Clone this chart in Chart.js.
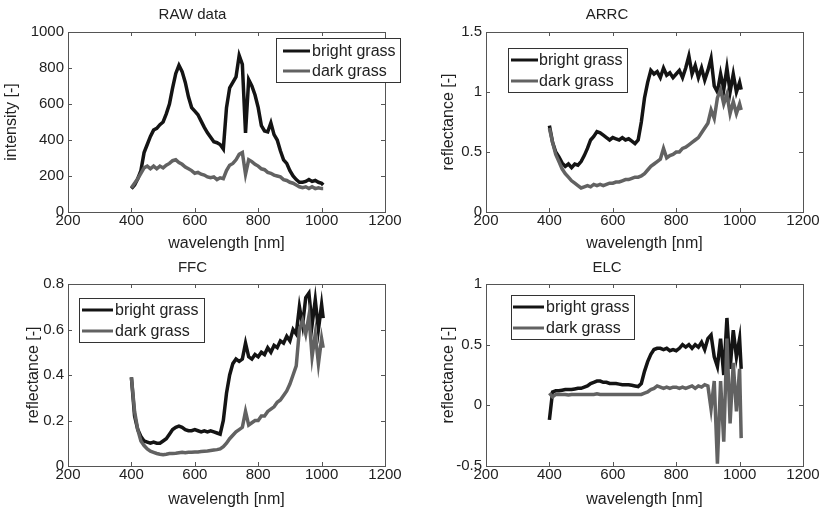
<!DOCTYPE html>
<html>
<head>
<meta charset="utf-8">
<script src="https://cdn.jsdelivr.net/npm/chart.js@4.4.1/dist/chart.umd.min.js"></script>
<style>
  body { margin: 0; background: #fff; }
  #wrap { position: relative; width: 823px; height: 511px; background: #fff; }
  .cell { position: absolute; }
</style>
</head>
<body>
<div id="wrap">
  <div class="cell" style="left:0;top:0;width:411px;height:255px"><canvas id="rawChart"></canvas></div>
  <div class="cell" style="left:411px;top:0;width:412px;height:255px"><canvas id="arrcChart"></canvas></div>
  <div class="cell" style="left:0;top:255px;width:411px;height:256px"><canvas id="ffcChart"></canvas></div>
  <div class="cell" style="left:411px;top:255px;width:412px;height:256px"><canvas id="elcChart"></canvas></div>
</div>
<script>
// wavelengths in nm (10 nm steps, last sample 1005)
const wavelengths = [400,410,420,430,440,450,460,470,480,490,500,510,520,530,540,550,560,570,580,590,
  600,610,620,630,640,650,660,670,680,690,700,710,720,730,740,750,760,770,780,790,
  800,810,820,830,840,850,860,870,880,890,900,910,920,930,940,950,960,970,980,990,1000,1005];

const seriesNames = ['bright grass', 'dark grass'];

const xTicks = [200, 400, 600, 800, 1000, 1200];
const rawTicks = [0, 200, 400, 600, 800, 1000];
const arrcTicks = [0, 0.5, 1, 1.5];
const ffcTicks = [0, 0.2, 0.4, 0.6, 0.8];
const elcTicks = [-0.5, 0, 0.5, 1];

const rawBright = [130,150,185,230,330,375,420,455,465,485,500,545,600,690,770,815,780,720,640,580,
  560,540,505,470,440,415,390,385,375,350,580,690,720,750,870,820,440,735,700,650,
  580,480,450,445,495,430,400,340,290,270,230,200,180,165,165,170,180,170,175,165,160,150];
const rawDark = [135,160,185,215,245,255,240,255,240,255,245,260,270,285,290,275,265,250,240,230,
  215,220,210,205,195,190,195,180,190,185,230,260,270,290,320,330,210,290,280,265,
  255,240,235,220,215,205,200,195,180,175,165,160,150,140,135,140,130,140,130,135,130,130];

const arrcBright = [0.72,0.58,0.5,0.46,0.41,0.38,0.4,0.37,0.4,0.39,0.42,0.47,0.53,0.6,0.63,0.67,0.66,0.64,0.62,0.6,
  0.62,0.61,0.6,0.62,0.6,0.61,0.59,0.57,0.6,0.75,0.95,1.08,1.18,1.15,1.17,1.12,1.2,1.14,1.16,1.12,
  1.15,1.18,1.12,1.2,1.3,1.15,1.22,1.12,1.2,1.1,1.18,1.28,1.05,1.0,1.15,1.02,1.2,1.0,1.15,1.0,1.08,1.02];
const arrcDark = [0.7,0.58,0.48,0.42,0.36,0.32,0.29,0.26,0.24,0.22,0.2,0.21,0.22,0.21,0.23,0.22,0.23,0.22,0.23,0.24,
  0.24,0.25,0.25,0.26,0.27,0.27,0.28,0.29,0.29,0.3,0.32,0.35,0.38,0.4,0.42,0.44,0.53,0.45,0.47,0.48,
  0.5,0.5,0.53,0.54,0.56,0.58,0.6,0.62,0.66,0.7,0.74,0.85,0.78,0.95,1.02,0.9,0.98,0.82,0.92,0.82,0.9,0.85];

const ffcBright = [0.39,0.22,0.16,0.13,0.11,0.105,0.1,0.105,0.1,0.1,0.11,0.12,0.14,0.16,0.17,0.175,0.17,0.16,0.155,0.155,
  0.16,0.155,0.15,0.155,0.15,0.155,0.15,0.145,0.14,0.2,0.32,0.4,0.45,0.47,0.46,0.47,0.54,0.48,0.47,0.49,
  0.48,0.5,0.49,0.52,0.5,0.53,0.52,0.55,0.54,0.57,0.55,0.6,0.58,0.7,0.62,0.74,0.76,0.62,0.73,0.6,0.71,0.65];
const ffcDark = [0.39,0.24,0.16,0.11,0.09,0.075,0.065,0.06,0.055,0.052,0.05,0.052,0.055,0.055,0.056,0.058,0.06,0.058,0.06,0.06,
  0.062,0.062,0.064,0.065,0.066,0.068,0.07,0.072,0.075,0.085,0.1,0.12,0.135,0.15,0.16,0.17,0.24,0.18,0.19,0.2,
  0.2,0.22,0.22,0.24,0.25,0.26,0.28,0.29,0.31,0.33,0.36,0.4,0.44,0.6,0.64,0.58,0.66,0.48,0.58,0.45,0.56,0.52];

const elcBright = [-0.12,0.11,0.12,0.12,0.125,0.13,0.13,0.13,0.135,0.14,0.14,0.15,0.16,0.18,0.19,0.2,0.2,0.19,0.19,0.18,
  0.18,0.18,0.175,0.17,0.17,0.17,0.165,0.16,0.155,0.18,0.28,0.36,0.42,0.46,0.47,0.47,0.46,0.47,0.45,0.46,
  0.45,0.47,0.5,0.48,0.5,0.47,0.5,0.48,0.52,0.46,0.55,0.58,0.4,0.32,0.55,0.25,0.72,0.3,0.62,0.4,0.55,0.3];
const elcDark = [0.1,0.07,0.09,0.09,0.09,0.09,0.085,0.09,0.09,0.09,0.09,0.09,0.09,0.09,0.09,0.095,0.09,0.09,0.09,0.09,
  0.09,0.09,0.09,0.09,0.09,0.09,0.09,0.09,0.09,0.09,0.1,0.11,0.13,0.14,0.16,0.15,0.14,0.15,0.14,0.15,
  0.15,0.14,0.15,0.14,0.15,0.16,0.14,0.16,0.15,0.17,0.16,-0.03,0.2,-0.48,0.2,-0.3,0.55,-0.15,0.35,-0.05,0.3,-0.27];

Chart.defaults.font.family = '"Liberation Sans", Arial, sans-serif';
Chart.defaults.color = '#222';

// matlab style frame, inner ticks and a legend inside the axes
const matlabFrame = {
    id: 'matlabFrame',
    afterDatasetsDraw: function (chart, args, opts) {
        let ctx = chart.ctx;
        let a = chart.chartArea;
        let xs = chart.scales.x, ys = chart.scales.y;
        ctx.save();
        ctx.strokeStyle = '#555';
        ctx.lineWidth = 1;
        ctx.beginPath();
        xs.ticks.forEach(function (t) {
            let px = Math.round(xs.getPixelForValue(t.value)) + 0.5;
            ctx.moveTo(px, a.bottom); ctx.lineTo(px, a.bottom - 4);
            ctx.moveTo(px, a.top); ctx.lineTo(px, a.top + 4);
        });
        ys.ticks.forEach(function (t) {
            let py = Math.round(ys.getPixelForValue(t.value)) + 0.5;
            ctx.moveTo(a.left, py); ctx.lineTo(a.left + 4, py);
            ctx.moveTo(a.right, py); ctx.lineTo(a.right - 4, py);
        });
        ctx.stroke();
        ctx.strokeRect(Math.round(a.left) + 0.5, Math.round(a.top) + 0.5,
            Math.round(a.right - a.left), Math.round(a.bottom - a.top));

        let L = opts.legend;
        let x0 = Math.round(a.left + L.x), y0 = Math.round(a.top + L.y);
        ctx.fillStyle = '#fff';
        ctx.fillRect(x0, y0, L.w, L.h);
        ctx.strokeStyle = '#333';
        ctx.strokeRect(x0 + 0.5, y0 + 0.5, L.w, L.h);
        ctx.font = '16px "Liberation Sans", Arial, sans-serif';
        ctx.textBaseline = 'middle';
        ctx.textAlign = 'left';
        chart.data.datasets.forEach(function (ds, i) {
            let cy = y0 + L.rows[i];
            ctx.strokeStyle = ds.borderColor;
            ctx.lineWidth = 3;
            ctx.beginPath();
            ctx.moveTo(x0 + L.s0, cy);
            ctx.lineTo(x0 + L.s1, cy);
            ctx.stroke();
            ctx.fillStyle = '#222';
            ctx.fillText(ds.label, x0 + L.tx, cy + 1);
        });
        ctx.restore();
    }
};

function plainLabel(v) {
    return String(v);
}

function makePanel(id, title, yTitle, yTicks, bright, dark, lay) {
    let el = document.getElementById(id).getContext('2d');
    let toPoints = function (vals) {
        return wavelengths.map(function (w, i) { return {x: w, y: vals[i]}; });
    };
    return new Chart(el, {
        type: 'line',
        data: {
            datasets: [{
                label: seriesNames[0],
                data: toPoints(bright),
                borderColor: '#141414',
                borderWidth: 3.5,
                pointRadius: 0,
                order: 1
            }, {
                label: seriesNames[1],
                data: toPoints(dark),
                borderColor: '#626262',
                borderWidth: 3.5,
                pointRadius: 0,
                order: 0
            }]
        },
        options: {
            responsive: true,
            maintainAspectRatio: false,
            animation: false,
            events: [],
            layout: { padding: { left: 0, right: lay.padRight, top: 0, bottom: 0 } },
            scales: {
                x: {
                    type: 'linear',
                    min: xTicks[0],
                    max: xTicks[xTicks.length - 1],
                    afterBuildTicks: function (s) { s.ticks = xTicks.map(function (v) { return {value: v}; }); },
                    afterFit: function (s) { s.height = lay.xAxisH; s.paddingLeft = 0; s.paddingRight = 0; },
                    grid: { display: false, drawTicks: false },
                    border: { display: false },
                    ticks: { font: { size: 15 }, padding: 0, color: '#222', maxRotation: 0, callback: plainLabel },
                    title: { display: true, text: 'wavelength [nm]', font: { size: 16 }, color: '#222',
                        padding: { top: 0, bottom: lay.xTitlePad } }
                },
                y: {
                    type: 'linear',
                    min: yTicks[0],
                    max: yTicks[yTicks.length - 1],
                    afterBuildTicks: function (s) { s.ticks = yTicks.map(function (v) { return {value: v}; }); },
                    afterFit: function (s) { s.width = lay.plotLeft; s.paddingTop = 0; s.paddingBottom = 0; },
                    grid: { display: false, drawTicks: false },
                    border: { display: false },
                    ticks: { font: { size: 15 }, padding: 4, color: '#222', callback: plainLabel },
                    title: { display: true, text: yTitle, font: { size: 16 }, color: '#222',
                        padding: { top: lay.yTitlePad, bottom: 0 } }
                }
            },
            plugins: {
                legend: { display: false },
                tooltip: { enabled: false },
                title: { display: true, text: title, font: { size: 15, weight: 'normal' }, color: '#222',
                    padding: lay.titlePad },
                matlabFrame: { legend: lay.legend }
            }
        },
        plugins: [matlabFrame]
    });
}

makePanel('rawChart', 'RAW data', 'intensity [-]', rawTicks, rawBright, rawDark, {
    plotLeft: 68, padRight: 26, xAxisH: 43, xTitlePad: 1.4, yTitlePad: 2.4,
    titlePad: { top: 6, bottom: 8 },
    legend: { x: 208, y: 6, w: 124, h: 44, rows: [13, 33], s0: 7, s1: 34, tx: 36 }
});
makePanel('arrcChart', 'ARRC', 'reflectance [-]', arrcTicks, arrcBright, arrcDark, {
    plotLeft: 75, padRight: 20, xAxisH: 43, xTitlePad: 1.4, yTitlePad: 28.4,
    titlePad: { top: 6, bottom: 8 },
    legend: { x: 22, y: 16, w: 119, h: 44, rows: [12, 33], s0: 3, s1: 30, tx: 31 }
});
makePanel('ffcChart', 'FFC', 'reflectance [-]', ffcTicks, ffcBright, ffcDark, {
    plotLeft: 68, padRight: 26, xAxisH: 45, xTitlePad: 1.9, yTitlePad: 24.4,
    titlePad: { top: 3.5, bottom: 7.5 },
    legend: { x: 11, y: 14, w: 125, h: 44, rows: [12, 33], s0: 3, s1: 34, tx: 36 }
});
makePanel('elcChart', 'ELC', 'reflectance [-]', elcTicks, elcBright, elcDark, {
    plotLeft: 75, padRight: 20, xAxisH: 45, xTitlePad: 1.9, yTitlePad: 28.4,
    titlePad: { top: 3.5, bottom: 7.5 },
    legend: { x: 25, y: 11, w: 123, h: 44, rows: [12, 33], s0: 2, s1: 33, tx: 35 }
});
</script>
</body>
</html>
